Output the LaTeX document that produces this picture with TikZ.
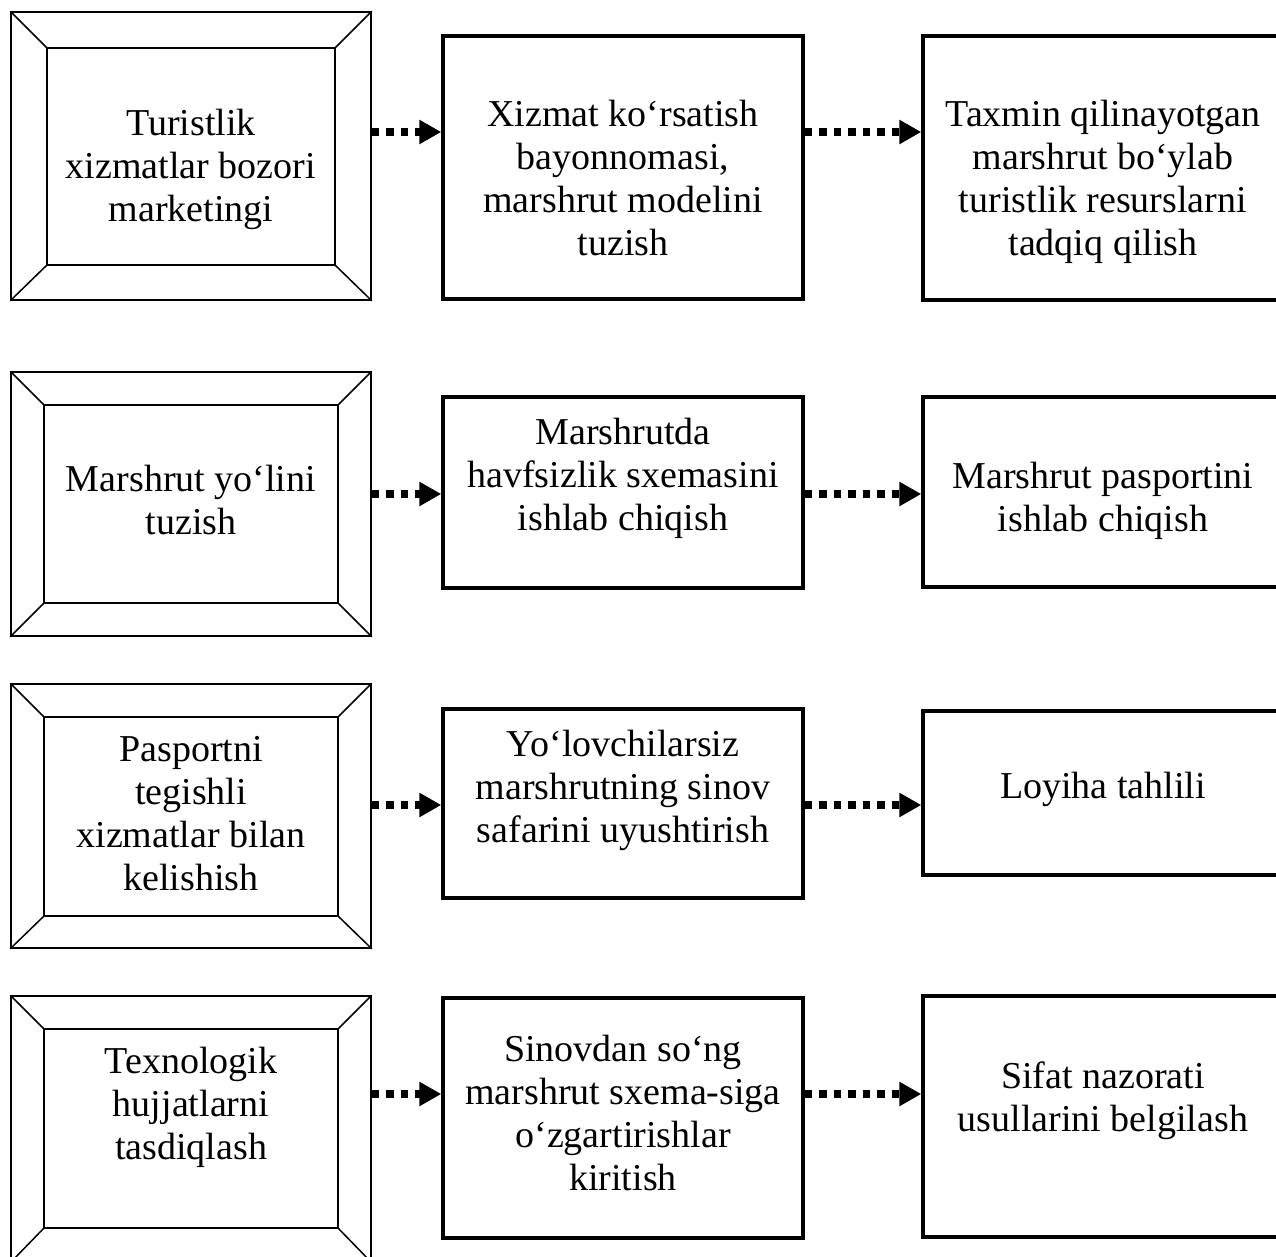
\documentclass[tikz,border=0pt]{standalone}
\usepackage{fontspec}
\setmainfont{Liberation Serif}
\usetikzlibrary{arrows.meta}
\begin{document}
\begin{tikzpicture}[x=1pt,y=-1pt,
  bev/.style={draw, line width=1.5pt, rectangle, inner sep=0pt},
  bevline/.style={line width=1.5pt},
  sbox/.style={draw, line width=3.4pt, rectangle, inner sep=0pt},
  txt/.style={font=\fontsize{38}{43}\selectfont, align=center, inner sep=0pt,
    execute at begin node=\strut, execute at end node=\strut},
  arr/.style={line width=7.7pt, dash pattern=on 7.5pt off 7pt,
    -{Triangle[length=22pt,width=23pt]}}]
\clip (0,0) rectangle (1276,1256);
\fill[white] (0,0) rectangle (1276,1256);

% ---------- bevel boxes (left column) ----------
\node[bev, minimum width=360pt, minimum height=288pt] (b1) at (191,156) {};
\coordinate (b1a) at (47,48); \coordinate (b1b) at (335,265);
\node[bev, minimum width=360pt, minimum height=264pt] (b2) at (191,504) {};
\coordinate (b2a) at (44,405); \coordinate (b2b) at (338,603);
\node[bev, minimum width=360pt, minimum height=264pt] (b3) at (191,816) {};
\coordinate (b3a) at (44,717); \coordinate (b3b) at (338,916);
\node[bev, minimum width=360pt, minimum height=266pt] (b4) at (191,1129) {};
\coordinate (b4a) at (44,1029); \coordinate (b4b) at (338,1228);
\foreach \b in {b1,b2,b3,b4}{
  \draw[bevline] (\b a) rectangle (\b b);
  \draw[bevline] (\b.north west) -- (\b a);
  \draw[bevline] (\b.south east) -- (\b b);
  \draw[bevline] (\b.north east) -- (\b b |- \b a);
  \draw[bevline] (\b.south west) -- (\b a |- \b b);
}

% ---------- middle boxes ----------
\node[sbox, minimum width=360pt, minimum height=263pt] (m1) at (623,167.5) {};
\node[sbox, minimum width=360pt, minimum height=191pt] (m2) at (623,492.5) {};
\node[sbox, minimum width=360pt, minimum height=189pt] (m3) at (623,803.5) {};
\node[sbox, minimum width=360pt, minimum height=240pt] (m4) at (623,1118) {};

% ---------- right boxes (cut by the page edge) ----------
\node[sbox, minimum width=360pt, minimum height=264pt] (r1) at (1103,168) {};
\node[sbox, minimum width=360pt, minimum height=190pt] (r2) at (1103,492) {};
\node[sbox, minimum width=360pt, minimum height=164pt] (r3) at (1103,793) {};
\node[sbox, minimum width=360pt, minimum height=241pt] (r4) at (1103,1116.5) {};

% ---------- texts ----------
\node[txt] (bt1) at (191,172) {Turistlik\\xizmatlar bozori\\marketingi};
\node[txt] (mt1) at (623,184) {Xizmat ko‘rsatish\\bayonnomasi,\\marshrut modelini\\tuzish};
\node[txt] (rt1) at (1103,184) {Taxmin qilinayotgan\\marshrut bo‘ylab\\turistlik resurslarni\\tadqiq qilish};

\node[txt] (bt2) at (191,506.5) {Marshrut yo‘lini\\tuzish};
\node[txt] (mt2) at (623,481) {Marshrutda\\havfsizlik sxemasini\\ishlab chiqish};
\node[txt] (rt2) at (1103,503) {Marshrut pasportini\\ishlab chiqish};

\node[txt] (bt3) at (191,819.5) {Pasportni\\tegishli\\xizmatlar bilan\\kelishish};
\node[txt] (mt3) at (623,793) {Yo‘lovchilarsiz\\marshrutning sinov\\safarini uyushtirish};
\node[txt] (rt3) at (1103,790) {Loyiha tahlili};

\node[txt] (bt4) at (191,1110) {Texnologik\\hujjatlarni\\tasdiqlash};
\node[txt] (mt4) at (623,1119) {Sinovdan so‘ng\\marshrut sxema-siga\\o‘zgartirishlar\\kiritish};
\node[txt] (rt4) at (1103,1103.5) {Sifat nazorati\\usullarini belgilash};

% ---------- arrows ----------
\coordinate (y1) at (0,132);
\coordinate (y2) at (0,494);
\coordinate (y3) at (0,805);
\coordinate (y4) at (0,1094);
\foreach \i in {1,2,3,4}{
  \draw[arr] (b\i.east |- y\i) -- (m\i.west |- y\i);
  \draw[arr] (m\i.east |- y\i) -- (r\i.west |- y\i);
}
\end{tikzpicture}
\end{document}
